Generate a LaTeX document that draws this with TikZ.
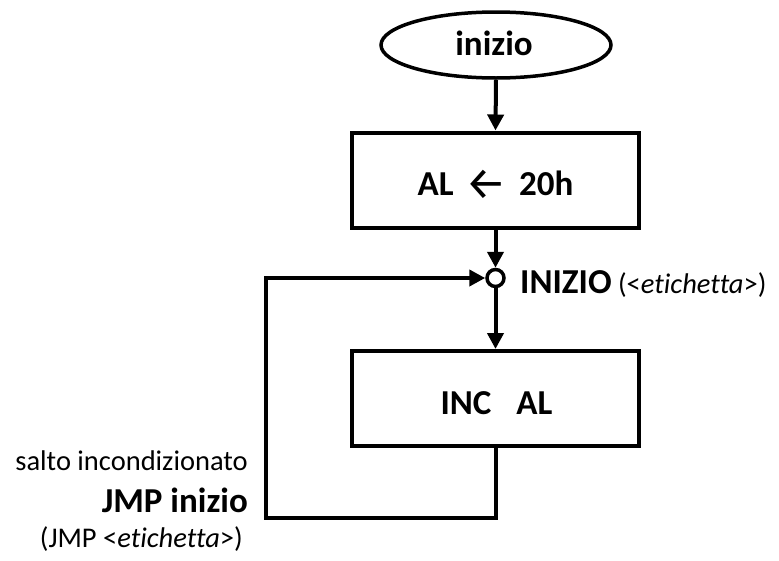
\documentclass[tikz,border=0pt]{standalone}
\usepackage{fontspec}
\setmainfont{Carlito}[Ligatures=NoCommon]
\newfontfamily\arrowfont{Fira Sans}
\usetikzlibrary{arrows.meta,shapes.geometric}
\tikzset{
  big/.style={font=\fontsize{35}{40}\selectfont\bfseries, inner sep=0pt},
  small/.style={font=\fontsize{28.5}{34}\selectfont, inner sep=0pt},
  stepbox/.style={draw, line width=4pt, minimum width=287pt, minimum height=95pt, inner sep=0pt},
  conn/.style={line width=4pt, -{Triangle[length=16pt,width=16pt]}}
}
\begin{document}
\begin{tikzpicture}[x=1pt,y=-1pt]
\useasboundingbox (0,0) rectangle (779,560);
% start ellipse
\node[ellipse, draw, line width=3.5pt, minimum width=230pt, minimum height=66pt, inner sep=0pt] (start) at (496,45) {};
\node[big, anchor=base] (tstart) at (494,55) {inizio};
% box 1
\node[stepbox] (b1) at (495.5,180) {};
\node[big, anchor=base] (t1) at (495.5,195) {AL\hspace{12pt}\raisebox{-4pt}{\arrowfont\mdseries\fontsize{46}{46}\selectfont ←}\hspace{12pt}20h};
% junction circle
\node[circle, draw, line width=3.5pt, minimum size=17pt, inner sep=0pt] (c) at (495.5,278) {};
\node[anchor=base west, inner sep=0pt] (tlab) at (520,293) {\fontsize{35}{40}\selectfont\bfseries INIZIO\mdseries\fontsize{28.5}{34}\selectfont\ (<\textit{etichetta}>)};
% box 2
\node[stepbox] (b2) at (495.5,398.5) {};
\node[big, anchor=base] (t2) at (496.5,414) {INC\hspace{25pt}AL};
% connectors
\draw[conn] (start.south) -- (b1.north);
\draw[conn] (b1.south) -- (c.north);
\draw[conn] (c.south) -- (b2.north);
\coordinate (lb) at (266,518);
\draw[conn] (b2.south) |- (lb) |- (c.west);
% left labels
\node[small, anchor=base east] (s1) at (248,470) {salto incondizionato};
\node[big, anchor=base east] (s2) at (248,512) {JMP inizio};
\node[small, anchor=base east] (s3) at (243,547) {(JMP <\textit{etichetta}>)};
\end{tikzpicture}
\end{document}
